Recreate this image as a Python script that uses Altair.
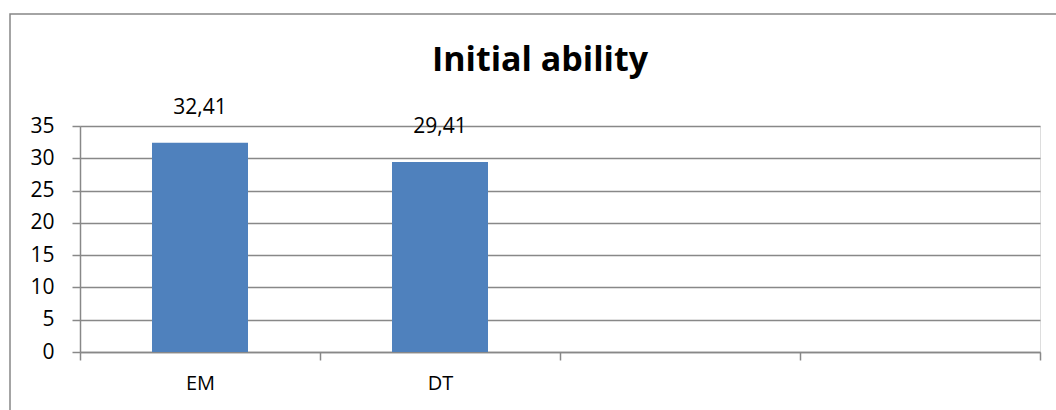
import altair as alt
import pandas as pd

categories = ["EM", "DT", " ", "  "]
values = [32.41, 29.41, None, None]
y_ticks = [0, 5, 10, 15, 20, 25, 30, 35]
title_text = "Initial ability"

df = pd.DataFrame({"cat": categories, "value": values})

GRID = "#888888"
FONT = "Open Sans"

x_enc = alt.X("cat:N", sort=categories, title=None,
              scale=alt.Scale(paddingInner=0, paddingOuter=0),
              axis=alt.Axis(labelAngle=0, tickBand="extent", labelFontSize=20,
                            labelFont=FONT, labelColor="black", labelPadding=13,
                            tickSize=8, tickColor=GRID, domainColor=GRID,
                            tickWidth=1.5, domainWidth=1.5, grid=False))
y_enc = alt.Y("value:Q", title=None,
              scale=alt.Scale(domain=[0, 35], nice=False),
              axis=alt.Axis(values=y_ticks, labelOverlap=False, labelFontSize=21,
                            labelFont=FONT, labelColor="black", labelPadding=18,
                            tickSize=8, tickColor=GRID, domainColor=GRID,
                            tickWidth=1.5, domainWidth=1.5, gridColor=GRID,
                            gridWidth=1.5))

bars = alt.Chart(df).mark_bar(width=96, color="#4F81BD").encode(x=x_enc, y=y_enc)

labels = alt.Chart(df).transform_filter("isValid(datum.value)").transform_calculate(
    lbl="replace(format(datum.value, '.2f'), '.', ',')"
).mark_text(fontSize=21, font=FONT, color="black", dy=-35).encode(
    x=x_enc, y=y_enc, text="lbl:N")

frame = alt.Chart(pd.DataFrame({"a": [0]})).mark_rect(
    fill=None, stroke="#868686", strokeWidth=1.5
).encode(x=alt.value(-70), x2=alt.value(1100), y=alt.value(-112), y2=alt.value(400))

title = alt.Chart(pd.DataFrame({"t": [title_text]})).mark_text(
    fontSize=34, font=FONT, fontWeight="bold", color="black",
    align="center", baseline="alphabetic"
).encode(text="t:N", x=alt.value(460), y=alt.value(-55))

chart = alt.layer(frame, bars, labels, title).properties(
    width=960, height=226,
    autosize=alt.AutoSizeParams(type="none"),
    padding={"left": 80, "top": 126, "right": 16, "bottom": 58},
).configure_view(strokeWidth=0).configure(background="white")

chart.save("out.html", embed_options={"renderer": "svg", "actions": False})
